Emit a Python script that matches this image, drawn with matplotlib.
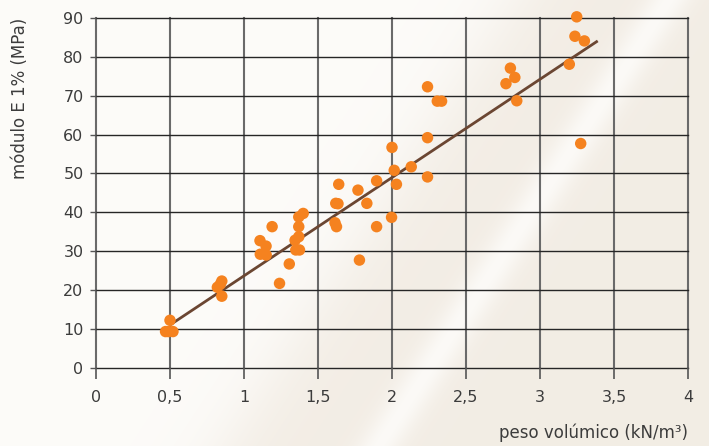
import numpy as np
import matplotlib
matplotlib.use("Agg")
import matplotlib.pyplot as plt

# peso volúmico (kN/m3) vs módulo E 1% (MPa)
peso = [0.47, 0.49, 0.52, 0.50, 0.82, 0.84, 0.85, 0.85, 1.24, 1.306,
        1.11, 1.15, 1.35, 1.375, 1.108, 1.149, 1.345, 1.37, 1.19, 1.37,
        1.37, 1.40, 1.615, 1.625, 1.62, 1.635, 1.64, 1.77, 1.78, 1.83,
        1.896, 1.896, 1.997, 2.0, 2.015, 2.03, 2.13, 2.24, 2.24, 2.24,
        2.306, 2.335, 2.77, 2.80, 2.83, 2.843, 3.198, 3.236, 3.248, 3.30,
        3.275]
modulo = [9.3, 9.3, 9.3, 12.2, 20.7, 21.5, 22.3, 18.4, 21.7, 26.7,
          29.2, 29.0, 30.3, 30.3, 32.7, 31.3, 32.8, 33.7, 36.3, 36.3,
          38.8, 39.7, 37.3, 36.3, 42.3, 42.2, 47.2, 45.7, 27.7, 42.3,
          36.3, 48.1, 38.7, 56.7, 50.8, 47.2, 51.7, 49.1, 59.2, 72.3,
          68.6, 68.6, 73.1, 77.1, 74.7, 68.7, 78.1, 85.3, 90.3, 84.1,
          57.7]

# regression line end points
fit_x = [0.50, 3.39]
fit_y = [11.0, 84.1]

xticks = [0, 0.5, 1, 1.5, 2, 2.5, 3, 3.5, 4]
xticklabels = ["0", "0,5", "1", "1,5", "2", "2,5", "3", "3,5", "4"]
yticks = list(range(0, 91, 10))

W, H = 709, 446
fig = plt.figure(figsize=(W / 100, H / 100), dpi=100)

# beige background with a diagonal light streak
bg = fig.add_axes([0, 0, 1, 1], zorder=0)
yy, xx = np.mgrid[0:H, 0:W]
d = xx + 0.65 * yy
t = 1 / (1 + np.exp(-(d - 515) / 22))
streak = np.exp(-((d - 668) / 22) ** 2)
white = np.array([0.990, 0.985, 0.975])
beige = np.array([0.952, 0.930, 0.898])
img = white + (beige - white) * (t * (1 - 0.9 * streak))[..., None]
bg.imshow(img, aspect="auto", extent=[0, 1, 0, 1], origin="upper")
bg.axis("off")

ax = fig.add_axes([96 / W, 1 - 367.7 / H, 592 / W, 349.7 / H], zorder=1)
ax.patch.set_alpha(0)

ax.set_xlim(0, 4)
ax.set_ylim(0, 90)
ax.set_xticks(xticks)
ax.set_xticklabels(xticklabels)
ax.set_yticks(yticks)

for x in xticks:
    ax.axvline(x, color="#6a6a6a", lw=1.5, zorder=1, clip_on=False)
for y in yticks:
    ax.axhline(y, color="#262626", lw=1.0, zorder=1, clip_on=False)
for s in ax.spines.values():
    s.set_visible(False)

ax.tick_params(axis="x", length=8, width=1.2, color="#555555", pad=8,
               labelsize=11.5, labelcolor="#3c3c3c")
ax.tick_params(axis="y", length=4, width=1.0, color="#555555", pad=5,
               labelsize=11.5, labelcolor="#3c3c3c")

ax.plot(fit_x, fit_y, color="#6b4632", lw=2.0, zorder=3, solid_capstyle="butt")
ax.scatter(peso, modulo, s=68, color="#f5821f", edgecolors="none", zorder=4,
           clip_on=False)

fig.text(688 / W, 1 - 433 / H, "peso volúmico (kN/m³)", ha="right", va="center",
         fontsize=12, color="#3c3c3c")
fig.text(20 / W, 1 - 18 / H, "módulo E 1% (MPa)", ha="center", va="top",
         rotation=90, fontsize=12, color="#3c3c3c")

fig.savefig("out.png", dpi=100)
